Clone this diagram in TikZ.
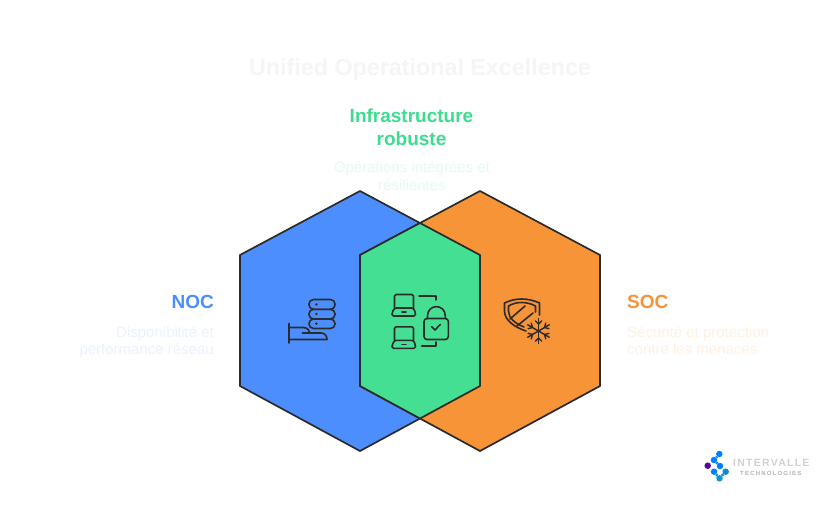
\documentclass[tikz,border=0pt]{standalone}
\usepackage{fontspec}
\setmainfont{Liberation Sans}
\definecolor{cblue}{HTML}{4D8EFF}
\definecolor{corange}{HTML}{F79437}
\definecolor{cgreen}{HTML}{45DF93}
\definecolor{cstroke}{HTML}{2B2B2B}
\definecolor{ctitle}{HTML}{F5F5F5}
\definecolor{dgreen}{HTML}{E6FBF1}
\definecolor{dblue}{HTML}{EBF2FF}
\definecolor{dorange}{HTML}{FFF1E4}
\definecolor{tgreen}{HTML}{3DDC8E}
\tikzset{
  hexa/.style={draw=cstroke,line width=1.7pt,line join=round},
  icon/.style={draw=cstroke,line width=1.6pt,line cap=round,line join=round},
  titletext/.style={inner sep=0pt,anchor=base,font=\bfseries\fontsize{23.3}{28}\selectfont,text=ctitle},
  headtext/.style={inner sep=0pt,font=\bfseries\fontsize{19}{23}\selectfont},
  desctext/.style={inner sep=0pt,font=\fontsize{15}{17.5}\selectfont},
  logodot/.style={circle,inner sep=0pt,minimum size=6.5pt},
}
\begin{document}
\begin{tikzpicture}[x=1pt,y=-1pt]
\useasboundingbox (0,0) rectangle (840,507);
\fill[white] (0,0) rectangle (840,507);
% hexagons
\draw[hexa,fill=cblue] (360,191) -- (480,255) -- (480,386) -- (360,451) -- (240,386) -- (240,255) -- cycle;
\draw[hexa,fill=corange] (480,191) -- (600,255) -- (600,386) -- (480,451) -- (360,386) -- (360,255) -- cycle;
\draw[hexa,fill=cgreen] (420,223) -- (480,255) -- (480,386) -- (420,418.5) -- (360,386) -- (360,255) -- cycle;
% texts
\node[titletext] (title) at (420,75) {Unified Operational Excellence};
\node[headtext,text=tgreen,align=center,anchor=north] (infra) at (411.5,108.5) {Infrastructure\\robuste};
\node[desctext,text=dgreen,align=center,anchor=north] (infradesc) at (412,161.5) {Opérations intégrées et\\résilientes};
\node[headtext,text=cblue,anchor=base east] (noc) at (214,308) {NOC};
\node[desctext,text=dblue,align=right,anchor=north east] (nocdesc) at (214,326) {Disponibilité et\\performance réseau};
\node[headtext,text=corange,anchor=base west] (soc) at (627,308) {SOC};
\node[desctext,text=dorange,align=left,anchor=north west] (socdesc) at (627,326) {Sécurité et protection\\contre les menaces};
% NOC icon
\draw[icon,rounded corners=4.5pt] (309,299.5) rectangle (335,309.3);
\draw[icon,rounded corners=4.5pt] (309,309.3) rectangle (335,319);
\draw[icon,rounded corners=4.5pt] (309,319) rectangle (335,328.5);
\foreach \yy in {304.4,313.9,323.6}{\fill[cstroke] (316.4,\yy) circle (1.3pt);}
\draw[icon] (289,323.5) -- (289,343);
\draw[icon] (289,327.5) -- (303,327.5) .. controls (307,327.5) and (309.5,330) .. (310,333);
\draw[icon] (302.5,333) -- (321,333) .. controls (325,333) and (327,336) .. (327,339.5) -- (289,339.5);
% central icon
\foreach \dy in {0,32.3}{
  \draw[icon,rounded corners=1.5pt] (394.5,308+\dy) -- (394.5,294.5+\dy) -- (413.5,294.5+\dy) -- (413.5,308+\dy);
  \draw[icon,rounded corners=1.5pt] (394.5,308+\dy) -- (392,313+\dy) -- (392,316+\dy) -- (415.5,316+\dy) -- (415.5,313+\dy) -- (413.5,308+\dy) -- cycle;
  \draw[icon] (402,312+\dy) -- (406,312+\dy);
}
\draw[icon,rounded corners=3pt] (424,318.5) rectangle (448.3,339.5);
\draw[icon] (427.5,318.5) -- (427.5,316) .. controls (427.5,303.5) and (445.3,303.5) .. (445.3,316) -- (445.3,318.5);
\draw[icon] (431.8,326.8) -- (435,330) -- (440.3,324.4);
\draw[icon] (419,295.8) -- (436,295.8) -- (436,300);
\draw[icon] (421.7,346) -- (436,346) -- (436,342);
% SOC icon
\draw[icon] (539.5,315) -- (539.5,303) .. controls (534,300.5) and (528,299) .. (521.7,299) .. controls (515,299) and (510,300.5) .. (504.5,303) -- (504.5,311) .. controls (504.5,320) and (514,327) .. (526,331);
\draw[icon] (535.5,312) -- (535.5,306) .. controls (531,303.5) and (526,302.5) .. (521.7,302.5) .. controls (517,302.5) and (512.5,303.5) .. (508.5,306) -- (508.5,311) .. controls (508.5,318) and (515,323.5) .. (524,327);
\draw[icon] (510,319) -- (525,306);
\draw[icon] (517,326) -- (533,313);
% snowflake
\foreach \a in {30,90,...,330}{
  \draw[icon,line width=1.4pt] (538.5,331) -- ++(\a:12.5pt);
  \draw[icon,line width=1.4pt] (538.5,331) ++(\a:7pt) -- ++(\a+45:4.5pt);
  \draw[icon,line width=1.4pt] (538.5,331) ++(\a:7pt) -- ++(\a-45:4.5pt);
}
% logo
\node[logodot,fill=violet!70!blue] (d1) at (707.7,465.7) {};
\node[logodot,fill=blue!50!cyan] (d2) at (719.3,454) {};
\node[logodot,fill=blue!50!cyan] (d3) at (714,460) {};
\node[logodot,fill=blue!50!cyan] (d4) at (720,466) {};
\node[logodot,fill=blue!50!cyan] (d5) at (714,471.7) {};
\node[logodot,fill=cyan!70!blue] (d6) at (725.7,471.7) {};
\node[logodot,fill=cyan!80!blue] (d7) at (719.5,478.3) {};
\draw[line width=2.5pt,blue!50!cyan] (d2) -- (d3) -- (d4);
\draw[line width=2.5pt,cyan!70!blue] (d5) -- (d7) -- (d6);
\node[inner sep=0pt,anchor=base west,font=\bfseries\fontsize{10.5}{12}\selectfont,text=black!18] (logoa) at (733,466) {\addfontfeatures{LetterSpace=12}INTERVALLE};
\node[inner sep=0pt,anchor=base west,font=\bfseries\fontsize{6}{7}\selectfont,text=black!30] (logob) at (740,475) {\addfontfeatures{LetterSpace=20}TECHNOLOGIES};
\end{tikzpicture}
\end{document}
